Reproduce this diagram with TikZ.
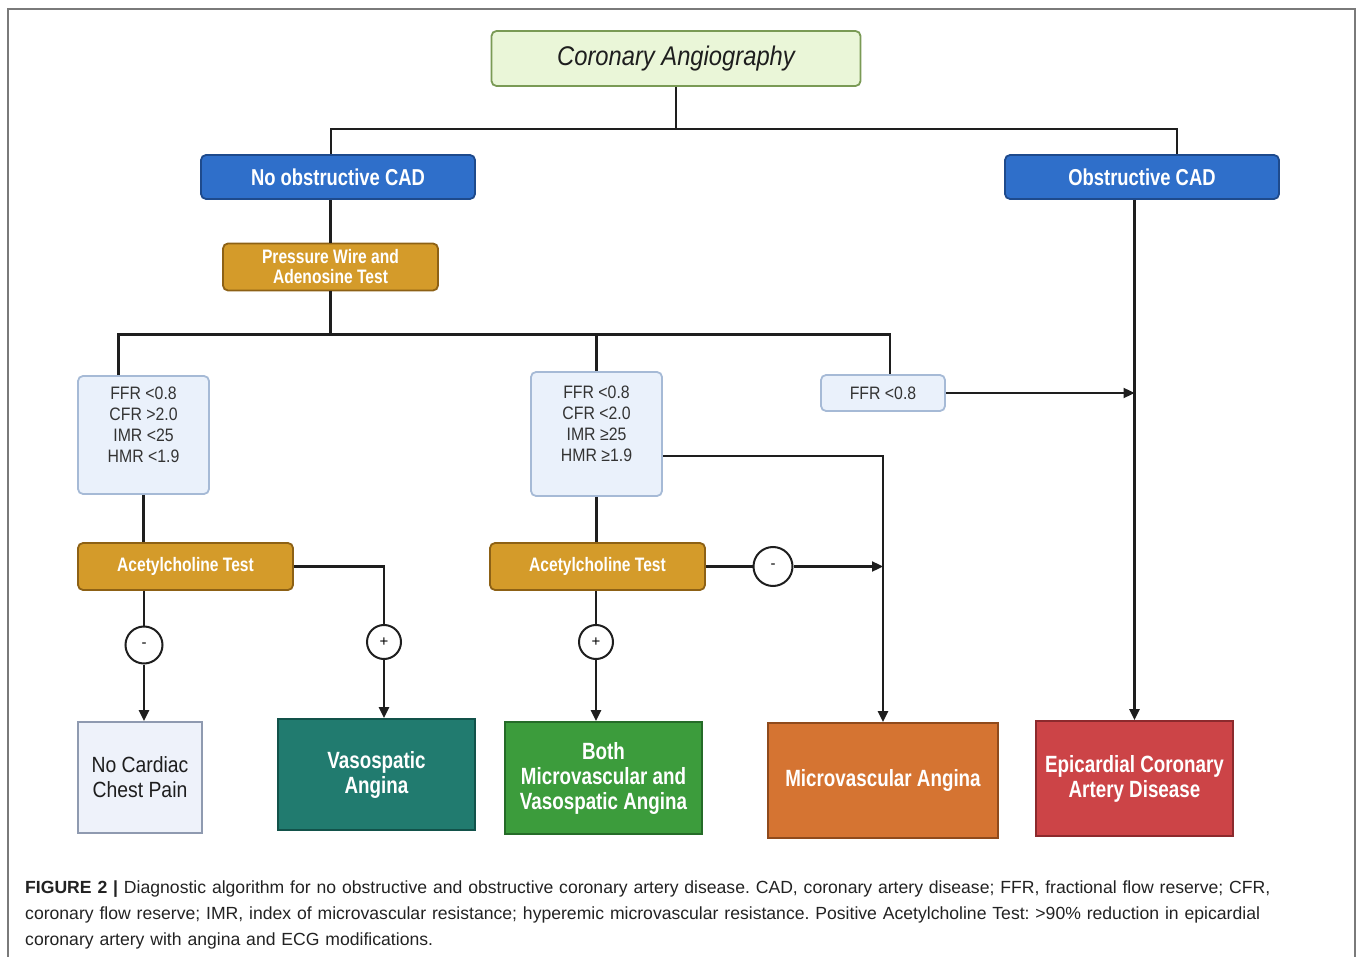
\documentclass[tikz,border=0pt]{standalone}
\usepackage{fontspec}
\setmainfont{Liberation Sans}
\newfontfamily\boldnarrow[FakeStretch=0.8]{Liberation Sans}
\newfontfamily\plainnarrow[FakeStretch=0.88]{Liberation Sans}
\newfontfamily\titlefont[FakeStretch=0.88]{Liberation Sans}
\usetikzlibrary{calc,arrows.meta}

\definecolor{linecol}{HTML}{1E1E1E}
\definecolor{frameC}{HTML}{7A7A7A}
\definecolor{angioF}{HTML}{EAF6D8}
\definecolor{angioD}{HTML}{7A9A55}
\definecolor{blueF}{HTML}{2F6FCA}
\definecolor{blueD}{HTML}{1E4A8C}
\definecolor{goldF}{HTML}{D49B2A}
\definecolor{goldD}{HTML}{8D6115}
\definecolor{critF}{HTML}{EAF1FB}
\definecolor{critD}{HTML}{A6BAD6}
\definecolor{textD}{HTML}{333333}
\definecolor{painF}{HTML}{EEF2FA}
\definecolor{painD}{HTML}{8F9AB0}
\definecolor{tealF}{HTML}{217B6F}
\definecolor{tealD}{HTML}{12524A}
\definecolor{greenF}{HTML}{3C9C3C}
\definecolor{greenD}{HTML}{256B28}
\definecolor{orangeF}{HTML}{D57432}
\definecolor{orangeD}{HTML}{8F4A1C}
\definecolor{redF}{HTML}{CC4447}
\definecolor{redD}{HTML}{8C2A2D}
\definecolor{capcol}{HTML}{222222}

\tikzset{
	line/.style={line width=2.3pt, draw=linecol},
	arr/.style={line, -{Triangle[length=11pt,width=10pt]}},
	box/.style={rectangle, draw, line width=1.8pt, align=center, inner sep=2pt},
	rbox/.style={box, rounded corners=5pt},
	bluebox/.style={rbox, fill=blueF, draw=blueD, text=white, font=\boldnarrow\bfseries\fontsize{23}{26}\selectfont, minimum width=274pt, minimum height=44pt},
	goldbox/.style={rbox, fill=goldF, draw=goldD, text=white, font=\boldnarrow\bfseries\fontsize{19.5}{20}\selectfont, minimum width=215pt, minimum height=47pt},
	critbox/.style={rbox, fill=critF, draw=critD, text=textD, font=\plainnarrow\fontsize{18}{21}\selectfont, minimum width=131pt},
	endbox/.style={box, text=white, font=\boldnarrow\bfseries\fontsize{23.5}{25}\selectfont, minimum width=197pt, minimum height=112pt},
	sign/.style={circle, draw=linecol, fill=white, line width=2pt, minimum size=37pt, inner sep=0pt, font=\fontsize{15}{15}\selectfont},
}

\begin{document}
\begin{tikzpicture}[x=1pt,y=-1pt]
	\useasboundingbox (0,0) rectangle (1358,957);
	\draw[frameC, line width=1.5pt] (8,957) -- (8,9) -- (1355,9) -- (1355,957);

	% top of the tree
	\node[rbox, fill=angioF, draw=angioD, minimum width=369pt, minimum height=55pt, font=\titlefont\itshape\fontsize{27}{30}\selectfont, text=linecol] (angio) at (676,58.5) {Coronary Angiography};
	\node[bluebox] (nocad) at (338,177) {No obstructive CAD};
	\node[bluebox] (obscad) at (1142,177) {Obstructive CAD};
	\node[goldbox] (pwire) at (330.5,267) {Pressure Wire and\\Adenosine Test};

	% criteria
	\node[critbox, minimum height=118pt] (crit1) at (143.5,435) {FFR <0.8\\CFR >2.0\\IMR <25\\HMR <1.9\\\mbox{}};
	\node[critbox, minimum height=124pt] (crit2) at (596.5,434) {FFR <0.8\\CFR <2.0\\IMR ≥25\\HMR ≥1.9\\\mbox{}};
	\node[critbox, minimum width=124pt, minimum height=36pt] (crit3) at (883,393) {FFR <0.8};

	\node[goldbox] (ach1) at (185.5,566.5) {Acetylcholine Test};
	\node[goldbox] (ach2) at (597.5,566.5) {Acetylcholine Test};

	\node[sign] (neg1) at (144,645) {-};
	\node[sign, minimum size=34pt] (pos1) at (384,642) {+};
	\node[sign, minimum size=39pt] (neg2) at (773,566.5) {-};
	\node[sign, minimum size=34pt] (pos2) at (596,642) {+};

	% outcomes
	\node[endbox, fill=painF, draw=painD, text=linecol, font=\plainnarrow\fontsize{22}{25}\selectfont, minimum width=124pt, minimum height=111pt] (nopain) at (140,777.5) {No Cardiac\\Chest Pain};
	\node[endbox, fill=tealF, draw=tealD, minimum height=111pt] (vaso) at (376.5,774.5) {Vasospatic\\Angina};
	\node[endbox, fill=greenF, draw=greenD] (both) at (603.5,778) {Both\\Microvascular and\\Vasospatic Angina};
	\node[endbox, fill=orangeF, draw=orangeD, minimum width=230pt, minimum height=115pt] (micro) at (883,780.5) {Microvascular Angina};
	\node[endbox, fill=redF, draw=redD, minimum height=115pt] (epi) at (1134.5,778.5) {Epicardial Coronary\\Artery Disease};

	% connectors
	\draw[line] (angio.south) -- ++(0,42) coordinate (split1);
	\draw[line] ([xshift=-7pt]nocad.north) |- (split1) -| ([xshift=35pt]obscad.north);
	\draw[line] (pwire.north) -- (pwire.north |- nocad.south);
	\draw[line] (pwire.south) -- ++(0,43) coordinate (split2);
	\draw[line] ([xshift=-25pt]crit1.north) |- (split2) -| ([xshift=7pt]crit3.north);
	\draw[line] (crit2.north) -- (crit2.north |- split2);

	\draw[line] (crit1.south) -- (crit1.south |- ach1.north);
	\draw[line] (neg1 |- ach1.south) -- (neg1);
	\draw[arr] (neg1) -- (neg1 |- nopain.north);
	\draw[line] (ach1.east) -| (pos1);
	\draw[arr] (pos1) -- (pos1 |- vaso.north);

	\draw[line] (crit2.south) -- (crit2.south |- ach2.north);
	\draw[line] (pos2 |- ach2.south) -- (pos2);
	\draw[arr] (pos2) -- (pos2 |- both.north);
	\draw[line] (ach2.east) -- (neg2);
	\draw[arr] (neg2) -- (neg2 -| micro.north);
	\draw[arr] ([yshift=-22pt]crit2.east) -| (micro.north);

	\draw[arr] (epi.north |- obscad.south) -- (epi.north);
	\draw[arr] (crit3.east) -- (crit3.east -| epi.north);

	% caption
	\node[anchor=north west, text width=1320pt, align=left, inner sep=0pt, text=capcol, font=\frenchspacing\fontsize{17.6}{26}\selectfont] (caption) at (25,881)
		{\textbf{FIGURE 2 |} Diagnostic algorithm for no obstructive and obstructive coronary artery disease. CAD, coronary artery disease; FFR, fractional flow reserve; CFR,\\
		coronary flow reserve; IMR, index of microvascular resistance; hyperemic microvascular resistance. Positive Acetylcholine Test: >90\% reduction in epicardial\\
		coronary artery with angina and ECG modifications.};
\end{tikzpicture}
\end{document}
